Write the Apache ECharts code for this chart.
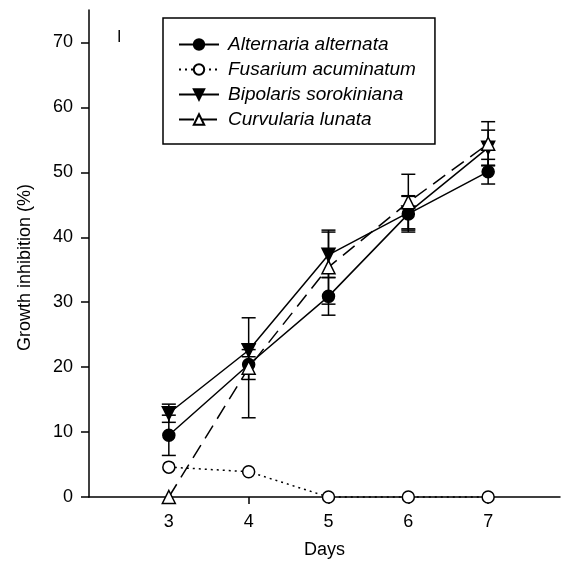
<!DOCTYPE html>
<html>
<head>
<meta charset="utf-8">
<script src="https://cdn.jsdelivr.net/npm/echarts@6/dist/echarts.min.js"></script>
<style>
  html, body { margin: 0; padding: 0; background: #fff; }
  #chart { width: 562px; height: 565px; }
</style>
</head>
<body>
<div id="chart"></div>
<script>
const days = [3, 4, 5, 6, 7];
const yTicks = [0, 10, 20, 30, 40, 50, 60, 70];

const alternaria = [9.5, 20.4, 30.9, 43.6, 50.1];
const alternariaErr = [3.1, 2.3, 2.9, 2.8, 1.9];
const fusarium = [4.6, 3.9, 0, 0, 0];
const fusariumErr = [0, 0, 0, 0, 0];
const bipolaris = [12.9, 22.6, 37.3, 43.8, 53.8];
const bipolarisErr = [1.4, 1.0, 3.5, 2.5, 2.7];
const curvularia = [0, 19.9, 35.4, 45.4, 54.4];
const curvulariaErr = [0, 7.7, 5.7, 4.3, 3.4];

const FONT = 'Liberation Sans, Arial, sans-serif';
const downTri = 'path://M0,0 L10,0 L5,9 Z';

function pairs(vals) {
  return days.map((d, i) => [d, vals[i]]);
}

// error bars drawn as custom series: vertical line + two caps
function errSeries(vals, errs) {
  return {
    type: 'custom',
    z: 1,
    silent: true,
    clip: false,
    data: days.map((d, i) => [d, vals[i] - errs[i], vals[i] + errs[i]]),
    renderItem: function (params, api) {
      const lo = api.coord([api.value(0), api.value(1)]);
      const hi = api.coord([api.value(0), api.value(2)]);
      if (hi[1] === lo[1]) return null;
      const w = 7;
      const st = { stroke: '#000', lineWidth: 1.5 };
      return {
        type: 'group',
        children: [
          { type: 'line', shape: { x1: lo[0], y1: lo[1], x2: hi[0], y2: hi[1] }, style: st },
          { type: 'line', shape: { x1: lo[0] - w, y1: lo[1], x2: lo[0] + w, y2: lo[1] }, style: st },
          { type: 'line', shape: { x1: hi[0] - w, y1: hi[1], x2: hi[0] + w, y2: hi[1] }, style: st }
        ]
      };
    }
  };
}

function lineSeries(name, vals, symbol, size, fill, lineType) {
  return {
    name: name,
    type: 'line',
    z: 3,
    clip: false,
    data: pairs(vals),
    symbol: symbol,
    symbolSize: size,
    showAllSymbol: true,
    lineStyle: { color: '#000', width: 1.5, type: lineType },
    itemStyle: { color: fill, borderColor: '#000', borderWidth: 1.5, opacity: 1 },
    emphasis: { disabled: true }
  };
}

const chart = echarts.init(document.getElementById('chart'));
chart.setOption({
  animation: false,
  backgroundColor: '#fff',
  title: {
    text: 'I',
    left: 112,
    top: 25,
    textStyle: { fontFamily: FONT, fontSize: 16, fontWeight: 'normal', color: '#000' }
  },
  legend: {
    orient: 'vertical',
    left: 163,
    top: 18,
    padding: [17, 19, 15, 15],
    borderColor: '#000',
    borderWidth: 1.5,
    itemWidth: 40,
    itemHeight: 13,
    itemGap: 6,
    textStyle: { fontFamily: FONT, fontSize: 19, fontStyle: 'italic', color: '#000', padding: [0, 0, 0, 4] },
    data: ['Alternaria alternata', 'Fusarium acuminatum', 'Bipolaris sorokiniana', 'Curvularia lunata']
  },
  grid: { left: 89, right: 2, top: 10, bottom: 68, containLabel: false },
  xAxis: {
    type: 'value',
    min: 2,
    max: 7.9,
    name: 'Days',
    nameLocation: 'middle',
    nameGap: 44,
    nameTextStyle: { fontFamily: FONT, fontSize: 18, color: '#000' },
    axisLine: { show: true, onZero: false, lineStyle: { color: '#000', width: 1.5 } },
    axisTick: { show: true, length: 7, customValues: days, lineStyle: { color: '#000', width: 1.5 } },
    axisLabel: { customValues: days, margin: 16, fontFamily: FONT, fontSize: 18, color: '#000' },
    splitLine: { show: false }
  },
  yAxis: {
    type: 'value',
    min: 0,
    max: 75,
    name: 'Growth inhibition (%)',
    nameLocation: 'middle',
    nameGap: 55,
    nameTextStyle: { fontFamily: FONT, fontSize: 18, color: '#000', padding: [0, 28, 0, 0] },
    axisLine: { show: true, lineStyle: { color: '#000', width: 1.5 } },
    axisTick: { show: true, length: 8, customValues: yTicks, lineStyle: { color: '#000', width: 1.5 } },
    axisLabel: { customValues: yTicks, margin: 16, fontFamily: FONT, fontSize: 18, color: '#000' },
    splitLine: { show: false }
  },
  series: [
    errSeries(alternaria, alternariaErr),
    errSeries(fusarium, fusariumErr),
    errSeries(bipolaris, bipolarisErr),
    errSeries(curvularia, curvulariaErr),
    lineSeries('Alternaria alternata', alternaria, 'circle', 12, '#000', 'solid'),
    lineSeries('Fusarium acuminatum', fusarium, 'circle', 12, '#fff', [2, 4]),
    lineSeries('Bipolaris sorokiniana', bipolaris, downTri, 13, '#000', 'solid'),
    lineSeries('Curvularia lunata', curvularia, 'triangle', 13, '#fff', [15, 8])
  ]
});
</script>
</body>
</html>
